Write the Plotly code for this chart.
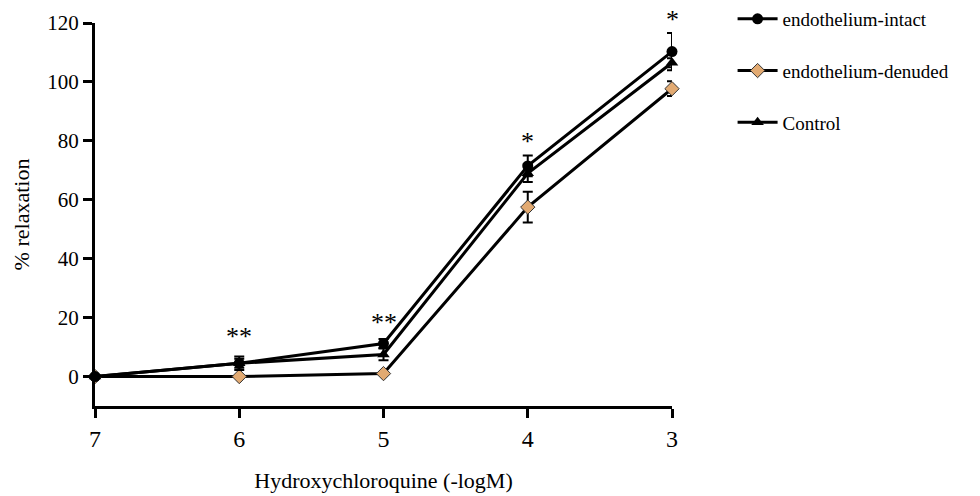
import plotly.graph_objects as go

conc = [7, 6, 5, 4, 3]
tick_vals = [7, 6, 5, 4, 3]
tick_text = ["7", "6", "5", "4", "3"]

intact = [0, 4.5, 11.2, 71.5, 110.3]
intact_err = [0, 2.3, 1.5, 3.5, 6.3]
denuded = [0, 0, 1.0, 57.5, 97.7]
denuded_err = [0, 0, 0, 5.2, 2.5]
control = [0, 4.5, 7.5, 69.0, 106.5]
control_err = [0, 1.5, 2.0, 3.0, 1.5]

star_x = [6, 5, 4, 3]
star_y = [9.5, 14.0, 75.5, 117.0]
star_text = ["**", "**", "*", "*"]

FONT = "Tinos, Liberation Serif, Times New Roman, DejaVu Serif, serif"

fig = go.Figure()

fig.add_trace(go.Scatter(
    x=conc, y=denuded, name="endothelium-denuded", mode="lines+markers",
    line=dict(color="black", width=3),
    marker=dict(symbol="diamond", size=11, color="#E2AA72", line=dict(color="#333333", width=1)),
    error_y=dict(type="data", array=denuded_err, color="black", thickness=2, width=5),
    cliponaxis=False, legendgroup="b", legendrank=2,
))
fig.add_trace(go.Scatter(
    x=conc, y=control, name="Control", mode="lines+markers",
    line=dict(color="black", width=3),
    marker=dict(symbol="triangle-up", size=11, color="black"),
    error_y=dict(type="data", array=control_err, color="black", thickness=2, width=5),
    cliponaxis=False, legendgroup="c", legendrank=3,
))
fig.add_trace(go.Scatter(
    x=conc, y=intact, name="endothelium-intact", mode="lines+markers",
    line=dict(color="black", width=3),
    marker=dict(symbol="circle", size=11, color="black"),
    error_y=dict(type="data", array=intact_err, color="black", thickness=2, width=5),
    cliponaxis=False, legendgroup="a", legendrank=1,
))

for sx, sy, st in zip(star_x, star_y, star_text):
    fig.add_annotation(x=sx, y=sy, text=st, showarrow=False,
                       font=dict(family=FONT, size=26, color="black"),
                       yanchor="bottom", yshift=-4)

fig.update_layout(
    width=980, height=496,
    margin=dict(l=95, r=308, t=23, b=90, autoexpand=False),
    paper_bgcolor="white", plot_bgcolor="white",
    font=dict(family=FONT, color="black"),
    showlegend=True,
    legend=dict(x=1.105, xanchor="left", yref="container", y=1.0, yanchor="top",
                font=dict(family=FONT, size=19, color="black"),
                tracegroupgap=24, itemwidth=40, bgcolor="rgba(0,0,0,0)"),
)
fig.update_xaxes(
    range=[7, 3], tickvals=tick_vals, ticktext=tick_text,
    showline=True, linecolor="black", linewidth=3, ticks="outside",
    ticklen=9, tickwidth=3, tickcolor="black", showgrid=False, zeroline=False,
    tickfont=dict(family=FONT, size=24, color="black"),
    title=dict(text="Hydroxychloroquine (-logM)", font=dict(family=FONT, size=22, color="black"), standoff=22),
)
fig.update_yaxes(
    range=[-10, 120], tickvals=[0, 20, 40, 60, 80, 100, 120],
    showline=True, linecolor="black", linewidth=3, ticks="outside",
    ticklen=9, tickwidth=3, tickcolor="black", showgrid=False, zeroline=False,
    tickfont=dict(family=FONT, size=21, color="black"),
    title=dict(text="% relaxation", font=dict(family=FONT, size=22, color="black"), standoff=12),
)

fig.write_html("out.html")
